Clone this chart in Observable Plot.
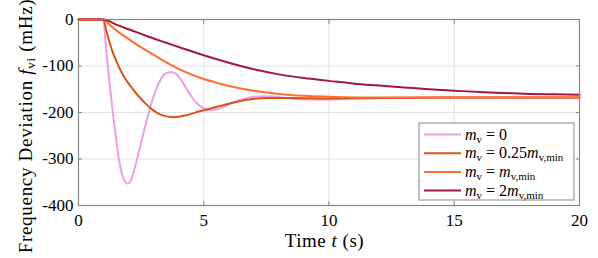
<!DOCTYPE html>
<html><head><meta charset="utf-8">
<script src="https://cdn.jsdelivr.net/npm/d3@7"></script>
<script src="https://cdn.jsdelivr.net/npm/@observablehq/plot@0.6"></script>
<style>
body{margin:0;background:#fff;}
#chart{position:relative;width:598px;height:258px;}
#chart svg text{font-family:'Liberation Serif','DejaVu Serif',serif !important;}
</style></head><body><div id="chart"></div>
<script>
// ---- data ----
const xTicks = [0, 5, 10, 15, 20];
const yTicks = [-400, -300, -200, -100, 0];

const tPink = [0, 1, 1.05, 1.15, 1.25, 1.37, 1.5, 1.61, 1.72, 1.85, 1.97, 2.1, 2.2, 2.34, 2.5, 2.65, 2.81, 3.0, 3.2, 3.4, 3.57, 3.74, 3.9, 4.1, 4.3, 4.5, 4.74, 5.0, 5.3, 5.6, 6.0, 6.5, 7.0, 7.5, 8.0, 8.7, 9.5, 10.5, 12, 14, 17, 20];
const vPink = [0, 0, -30, -90, -141, -200, -255, -300, -330, -348, -353, -345, -328, -300, -265, -232, -200, -165, -137, -120, -114, -113, -117, -130, -148, -165, -181, -191, -195, -192, -183, -172, -166, -165, -167, -171, -172, -171, -169, -168, -168, -168];

const tDark = [0, 1, 1.1, 1.2, 1.35, 1.5, 1.7, 1.9, 2.1, 2.4, 2.7, 3.0, 3.3, 3.8, 4.3, 4.8, 5.3, 6.0, 6.8, 7.6, 8.5, 10, 12, 15, 20];
const vDark = [0, 0, -22, -42, -68, -88, -112, -130, -145, -165, -182, -196, -205, -210, -206, -198, -191, -181, -172, -169, -169, -170, -169, -168, -168];

const tOrange = [0, 1, 1.25, 1.5, 2.0, 2.5, 3.0, 3.5, 4.0, 4.5, 5.0, 5.5, 6.0, 7.0, 8.0, 9.0, 10, 12, 15, 20];
const vOrange = [0, 0, -12, -23, -42, -60, -76, -92, -106, -118, -128, -136, -143, -153, -160, -164, -166, -168, -168, -168];

const tPurple = [0, 1, 1.5, 2, 2.5, 3, 3.5, 4, 5, 6, 7, 8, 9, 10, 11, 12, 13, 14, 15, 16, 17, 18, 19, 20];
const vPurple = [0, 0, -11, -21, -31, -41, -50, -59, -77, -93, -107, -118, -126, -132, -138, -142, -146, -150, -153, -156, -158, -160, -161, -162];

const seriesColors = ["#EBA0E6", "#D95319", "#FF6E2E", "#A2193A"];
// legend labels: segments [text, kind] kind: "i" italic, "s" subscript, "" normal
const legendLabels = [
  [["m","i"],["v","s"],[" = 0",""]],
  [["m","i"],["v","s"],[" = 0.25",""],["m","i"],["v,min","s"]],
  [["m","i"],["v","s"],[" = ",""],["m","i"],["v,min","s"]],
  [["m","i"],["v","s"],[" = 2",""],["m","i"],["v,min","s"]]
];

const series = [
  {t: tPink, v: vPink},
  {t: tDark, v: vDark},
  {t: tOrange, v: vOrange},
  {t: tPurple, v: vPurple}
].map((s, k) => ({...s, color: seriesColors[k], label: legendLabels[k], k}));

// ---- layout ----
const W = 598, H = 258, mL = 78, mR = 19, mT = 19, mB = 53;
const FONT = "'Liberation Serif', 'DejaVu Serif', serif";
const AX = "#888";

const lineMarks = series.map(s => Plot.line(
  s.t.map((t, i) => ({t, v: s.v[i]})),
  {x: "t", y: "v", stroke: s.color, strokeWidth: 2, curve: "monotone-x"}
));

const plot = Plot.plot({
  width: W, height: H,
  marginLeft: mL, marginRight: mR, marginTop: mT, marginBottom: mB,
  style: {fontFamily: FONT, fontSize: "17px", color: "#000", background: "#fff", overflow: "visible"},
  x: {domain: [0, 20], label: null},
  y: {domain: [-400, 0], label: null},
  marks: [
    Plot.gridX({ticks: xTicks.slice(1, -1), stroke: "#e4e4e4", strokeOpacity: 1}),
    Plot.gridY({ticks: yTicks.slice(1, -1), stroke: "#e4e4e4", strokeOpacity: 1}),
    ...lineMarks,
    Plot.frame({stroke: AX, strokeWidth: 1.2}),
    Plot.axisX({ticks: xTicks, anchor: "bottom", tickSize: 0, tickPadding: 8, tickFormat: d => String(d), fill: "#000", fontSize: 17}),
    Plot.axisX({ticks: xTicks, anchor: "bottom", tickSize: -4, tickFormat: () => "", stroke: AX}),
    Plot.axisX({ticks: xTicks, anchor: "top", tickSize: -4, tickFormat: () => "", stroke: AX}),
    Plot.axisY({ticks: yTicks, anchor: "left", tickSize: 0, tickPadding: 5, tickFormat: d => String(d), fill: "#000", fontSize: 17}),
    Plot.axisY({ticks: yTicks, anchor: "left", tickSize: -4, tickFormat: () => "", stroke: AX}),
    Plot.axisY({ticks: yTicks, anchor: "right", tickSize: -4, tickFormat: () => "", stroke: AX})
  ]
});

document.getElementById("chart").appendChild(plot);

const svg = d3.select(plot);

function richText(sel, parts, subSize, subDy) {
  let down = false;
  parts.forEach(([txt, kind]) => {
    const ts = sel.append("tspan").text(txt);
    if (kind === "i") ts.attr("font-style", "italic");
    if (kind === "s") {
      ts.attr("font-size", subSize);
      if (!down) { ts.attr("dy", subDy); down = true; }
    } else if (down) {
      ts.attr("dy", -subDy); down = false;
    }
  });
}

// axis titles
const xt = svg.append("text")
  .attr("x", mL + (W - mL - mR) / 2 - 4).attr("y", 247)
  .attr("text-anchor", "middle").attr("font-size", 19).attr("letter-spacing", 0.5).attr("fill", "#000");
richText(xt, [["Time ",""],["t","i"],[" (s)",""]], 13, 3);

const yt = svg.append("text")
  .attr("transform", `translate(32,${mT + (H - mT - mB) / 2 + 14}) rotate(-90)`)
  .attr("text-anchor", "middle").attr("font-size", 19).attr("letter-spacing", 0.7).attr("fill", "#000");
richText(yt, [["Frequency Deviation ",""],["f","i"],["vi","s"],[" (mHz)",""]], 13, 3);

// legend
const lw = 155, lh = 77;
const lx = W - mR - 5 - lw, ly = H - mB - 5 - lh;
const lg = svg.append("g").attr("font-size", 16).attr("text-anchor", "start");
lg.append("rect").attr("x", lx).attr("y", ly).attr("width", lw).attr("height", lh)
  .attr("fill", "#fff").attr("stroke", AX).attr("stroke-width", 1);
series.forEach((s, i) => {
  const yy = ly + 11.5 + i * 18.7;
  lg.append("line").attr("x1", lx + 5).attr("x2", lx + 42).attr("y1", yy).attr("y2", yy)
    .attr("stroke", s.color).attr("stroke-width", 2);
  const tx = lg.append("text").attr("x", lx + 46).attr("y", yy + 5).attr("fill", "#000").attr("text-anchor", "start");
  richText(tx, s.label, 11, 3);
});
</script></body></html>
